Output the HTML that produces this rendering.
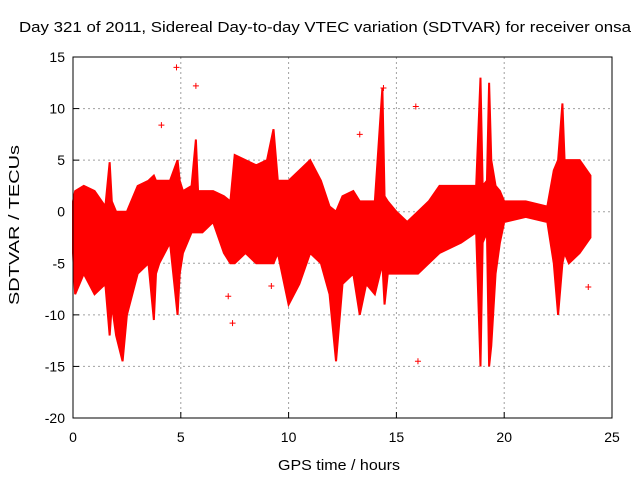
<!DOCTYPE html>
<html><head><meta charset="utf-8"><style>
body{margin:0;background:#fff;}
svg text{font-family:"Liberation Sans",sans-serif;font-size:14px;fill:#000;}
</style></head><body>
<svg id="chart" width="640" height="480" xmlns="http://www.w3.org/2000/svg">
<text x="19" y="32" textLength="612" lengthAdjust="spacingAndGlyphs" style="font-size:15px">Day 321 of 2011, Sidereal Day-to-day VTEC variation (SDTVAR) for receiver onsa</text>
<text x="278" y="470" textLength="122" lengthAdjust="spacingAndGlyphs" style="font-size:15px">GPS time / hours</text>
<text transform="translate(19,305) rotate(-90)" textLength="160" lengthAdjust="spacingAndGlyphs" style="font-size:15px">SDTVAR / TECUs</text>
<g id="grid"></g>
<g id="ticks"></g>
<g id="marks"></g>
<rect x="73" y="57" width="539" height="361" fill="none" stroke="#000" stroke-width="1"/>
</svg>
<script>
const xTicks=[0,5,10,15,20,25];
const yTicks=[15,10,5,0,-5,-10,-15,-20];
const times=[0,0.1,0.5,1,1.5,1.7,1.8,2,2.3,2.5,3,3.5,3.75,3.85,4,4.5,4.85,4.95,5.1,5.5,5.7,5.8,6,6.5,7,7.3,7.5,8,8.5,9,9.3,9.5,10,10.5,11,11.5,11.9,12.2,12.5,13,13.3,13.6,14,14.35,14.45,14.6,15,15.5,16,16.5,17,18,18.7,18.9,19.0,19.2,19.3,19.4,19.6,19.8,20,21,22,22.3,22.5,22.7,22.8,23,23.5,24];
const upper=[1,2,2.5,2,0.5,4.8,1,0,0,0,2.5,3,3.5,3,3,3,5,3,2,2.5,7,2,2,2,1.5,1,5.5,5,4.5,5,8,3,3,4,5,3,0.5,0,1.5,2,1,1,1,12,1.5,1,0,-1,0,1,2.5,2.5,2.5,13,2.5,3,12.5,5,2.5,2,1,1,0.5,4,5,10.5,5,5,5,3.5];
const lower=[-4,-8,-6,-8,-7,-12,-9,-12,-14.5,-10,-6,-5,-10.5,-6,-5,-3,-10,-6,-4,-2,-2,-2,-2,-1,-4,-5,-5,-4,-5,-5,-5,-4,-9,-7,-4,-5,-8,-14.5,-7,-6,-10,-7,-8,-5,-9,-6,-6,-6,-6,-5,-4,-3,-2,-15,-3,-2,-15,-13,-6,-3,-1,-0.5,-1,-5,-10,-5,-4,-5,-4,-2.5];
const outX=[4.8,5.7,4.1,13.3,14.4,15.9,16,7.4,9.2,23.9,7.2];
const outY=[14,12.2,8.4,7.5,12,10.2,-14.5,-10.8,-7.2,-7.3,-8.2];
const X=v=>73+v*539/25, Y=v=>57+(15-v)*361/35;
const NS="http://www.w3.org/2000/svg";
function mk(t,a,p){const e=document.createElementNS(NS,t);for(const k in a)e.setAttribute(k,a[k]);p.appendChild(e);return e;}
const grid=document.getElementById('grid'),ticks=document.getElementById('ticks'),marks=document.getElementById('marks');
xTicks.forEach(v=>{
 if(v>0&&v<25){const l=mk('line',{x1:X(v),x2:X(v),y1:57,y2:418,stroke:'#a0a0a0','stroke-dasharray':'2,3'},grid);
 
 }
 mk('line',{x1:X(v),x2:X(v),y1:418,y2:412,stroke:'#000'},ticks);
 const t=mk('text',{x:X(v),y:442,'text-anchor':'middle'},ticks);t.textContent=v;
 
 
});
yTicks.forEach(v=>{
 if(v<15&&v>-20){const l=mk('line',{x1:73,x2:612,y1:Y(v),y2:Y(v),stroke:'#a0a0a0','stroke-dasharray':'2,3'},grid);
 
 }
 mk('line',{x1:73,x2:79,y1:Y(v),y2:Y(v),stroke:'#000'},ticks);
 const t=mk('text',{x:65,y:Y(v)+5,'text-anchor':'end'},ticks);t.textContent=v;
 
 
});
let pts=times.map((t,i)=>X(t)+','+Y(upper[i]));
for(let i=times.length-1;i>=0;i--)pts.push(X(times[i])+','+Y(lower[i]));
const band=mk('polygon',{points:pts.join(' '),fill:'#ff0000',stroke:'#ff0000','stroke-width':2},marks);


outX.forEach((t,i)=>{
 const p=mk('path',{d:`M${X(t)-3},${Y(outY[i])}h6M${X(t)},${Y(outY[i])-3}v6`,stroke:'#ff0000','stroke-width':1},marks);
 
 
});
</script>
</body></html>
